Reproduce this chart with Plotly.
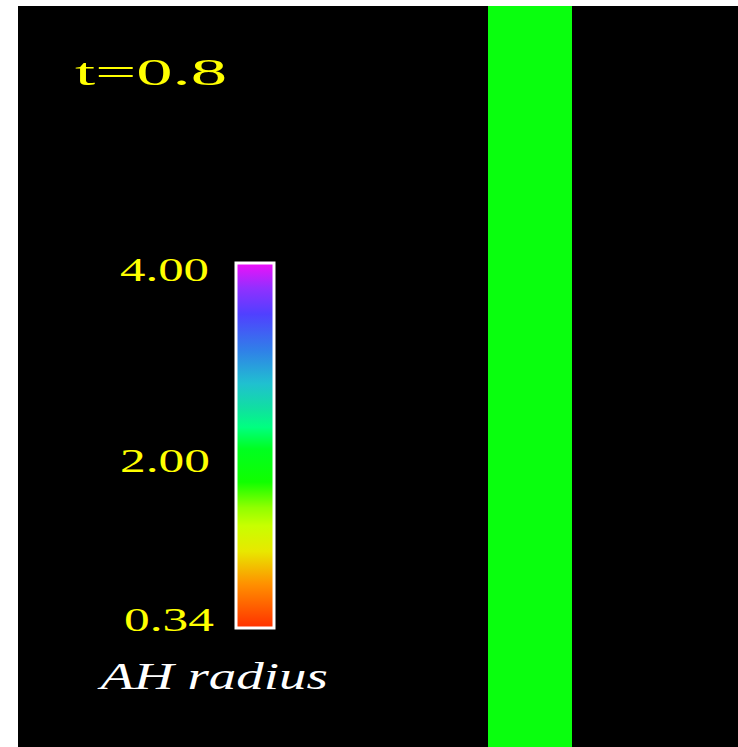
import plotly.graph_objects as go

# ---- data ----
x_edges = [0.0, 0.6528, 0.7694, 1.0]          # cell edges across the domain
y_edges = [0.0, 1.0]
ah_radius = [[None, 1.95, None]]              # AH radius field (only the band has data)
r_min, r_max = 0.34, 4.00
tick_vals = [4.00, 2.00, 0.34]
tick_text = ["4.00", "2.00", "0.34"]
time_label = "t=0.8"
bar_title = "AH radius"

colorscale = [
    [0.00, "#ff3000"],
    [0.12, "#ff9000"],
    [0.21, "#e8e800"],
    [0.28, "#c8ff00"],
    [0.33, "#90ff00"],
    [0.40, "#10ff00"],
    [0.49, "#00ff20"],
    [0.55, "#00ff80"],
    [0.60, "#10e0a0"],
    [0.67, "#20c0d0"],
    [0.76, "#3080e8"],
    [0.86, "#5040ff"],
    [0.93, "#9030ff"],
    [1.00, "#f010f8"],
]

W, H = 738, 747
ML, MT = 18, 6
PW, PH = W - ML, H - MT

def px_x(p):
    return (p - ML) / PW

def px_y(p):
    return 1 - (p - MT) / PH

fig = go.Figure()
fig.add_trace(go.Heatmap(
    x=x_edges, y=y_edges, z=ah_radius,
    zmin=r_min, zmax=r_max, colorscale=colorscale,
    zsmooth=False, hoverinfo="skip",
    colorbar=dict(
        xref="paper", yref="paper",
        x=px_x(235.5), xanchor="left", xpad=0,
        y=px_y(263), yanchor="top", ypad=0,
        lenmode="pixels", len=365,
        thicknessmode="pixels", thickness=38,
        outlinewidth=3, outlinecolor="white",
        showticklabels=False, ticks="",
        bgcolor="rgba(0,0,0,0)", borderwidth=0,
    ),
))

serif = "Liberation Serif, Times New Roman, serif"
ann = []
ann.append(dict(text=time_label, x=px_x(74), y=px_y(72), size=38, color="#ffff00", style="normal"))
label_pos = {"4.00": (119, 269.5), "2.00": (119, 460.5), "0.34": (123, 619)}
for v, t in zip(tick_vals, tick_text):
    lx, ly = label_pos[t]
    ann.append(dict(text=t, x=px_x(lx), y=px_y(ly), size=34, color="#ffff00", style="normal"))
ann.append(dict(text=bar_title, x=px_x(95), y=px_y(676), size=38, color="white", style="italic"))

for a in ann:
    fig.add_annotation(
        text=a["text"], x=a["x"], y=a["y"], xref="paper", yref="paper",
        xanchor="left", yanchor="middle", showarrow=False, borderpad=0,
        font=dict(family=serif, size=a["size"], color=a["color"], style=a["style"]),
    )

fig.update_layout(
    width=W, height=H,
    margin=dict(l=ML, r=0, t=MT, b=0, autoexpand=False),
    paper_bgcolor="white", plot_bgcolor="black",
    xaxis=dict(range=[0, 1], visible=False, fixedrange=True),
    yaxis=dict(range=[0, 1], visible=False, fixedrange=True),
    showlegend=False,
)

# widen the glyphs horizontally like the original rendering
post = """
var targets = [152, 89, 90, 90, 232];
var texts = document.querySelectorAll('.annotation-text');
texts.forEach(function(el, i){
  var b = el.getBBox();
  if (!b.width || targets[i] === undefined) return;
  var s = targets[i] / b.width;
  el.setAttribute('transform', 'translate(' + b.x + ',0) scale(' + s + ',1) translate(' + (-b.x) + ',0)');
});
"""
fig.write_html("out.html", post_script=post)
